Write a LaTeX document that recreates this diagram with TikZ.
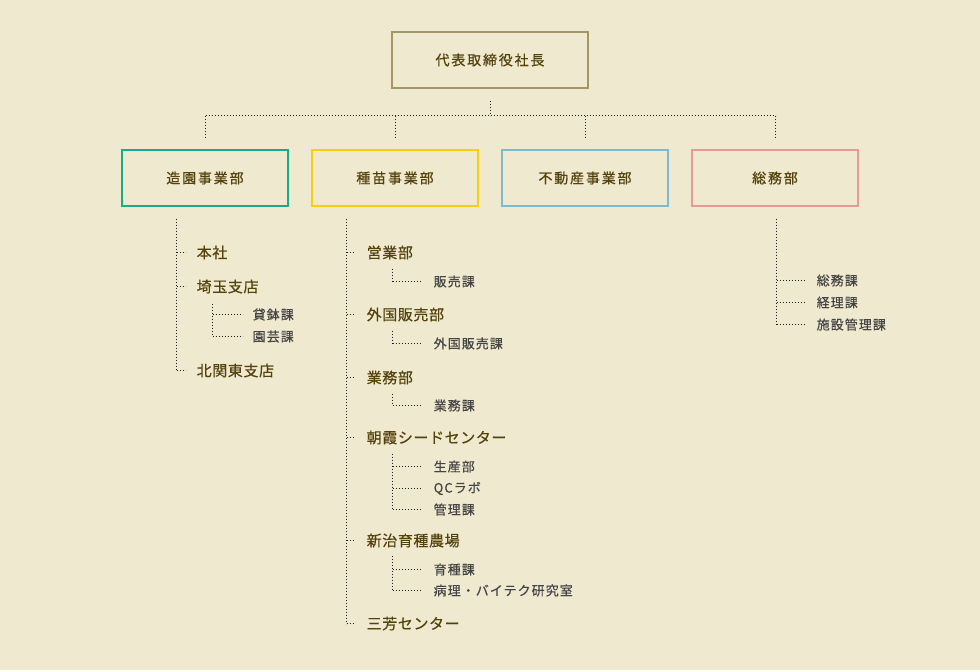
\documentclass[tikz,border=0pt]{standalone}
\usepackage{fontspec}
\setmainfont{Noto Sans CJK JP}
\newfontfamily\boxfont[LetterSpace=13,FakeBold=0.8]{Noto Sans CJK JP}
\newfontfamily\lonefont[LetterSpace=4,FakeBold=0.45]{Noto Sans CJK JP}
\newfontfamily\ltwofont[LetterSpace=8,FakeBold=0.3]{Noto Sans CJK JP}
\definecolor{bg}{HTML}{EFE9CF}
\definecolor{titlec}{HTML}{54420C}
\definecolor{subc}{HTML}{444444}
\definecolor{dotc}{HTML}{222222}
\definecolor{topc}{HTML}{A39763}
\definecolor{greenc}{HTML}{1BAA88}
\definecolor{yellowc}{HTML}{F6D10A}
\definecolor{bluec}{HTML}{80B8CC}
\definecolor{pinkc}{HTML}{E29A9A}
\begin{document}
\begin{tikzpicture}[x=1pt,y=-1pt,
  orgbox/.style={draw, line width=2pt, minimum width=166pt, minimum height=56pt, inner sep=0pt, text=titlec, font=\boxfont\fontsize{14}{14}\selectfont},
  lone/.style={anchor=west, inner sep=0pt, text=titlec, font=\lonefont\fontsize{15}{15}\selectfont},
  ltwo/.style={anchor=west, inner sep=0pt, text=subc, font=\ltwofont\fontsize{13}{13}\selectfont},
  dotline/.style={draw=dotc, line width=1pt, dash pattern=on 1pt off 2pt}]
\fill[bg] (0,0) rectangle (980,670);
\useasboundingbox (0,0) rectangle (980,670);

% boxes
\node[orgbox, draw=topc, minimum width=196pt] (ceo) at (490,60) {代表取締役社長};
\node[orgbox, draw=greenc] (zoen) at (205,178) {造園事業部};
\node[orgbox, draw=yellowc] (shubyo) at (395,178) {種苗事業部};
\node[orgbox, draw=bluec] (fudosan) at (585,178) {不動産事業部};
\node[orgbox, draw=pinkc] (somu) at (775,178) {総務部};

\begin{scope}[shift={(0.5,0.5)}]
% top connectors
\coordinate (c0) at (490,100);
\coordinate (c1) at (490,115);
\coordinate (h1) at (205,115);
\coordinate (h4) at (775,115);
\draw[dotline] (c0) -- (c1);
\draw[dotline] (h1) -- (h4);
\foreach \x/\n in {205/a,395/b,585/c,775/d}{
  \coordinate (t\n) at (\x,115);
  \coordinate (b\n) at (\x,137);
  \draw[dotline] (t\n) -- (b\n);
}

% green column
\coordinate (gtop) at (176,218);
\coordinate (gbot) at (176,370);
\draw[dotline] (gtop) -- (gbot);
\node[lone] (g1) at (196,252) {本社};
\node[lone] (g2) at (196,286) {埼玉支店};
\node[ltwo] (g21) at (252,314) {貸鉢課};
\node[ltwo] (g22) at (252,336) {園芸課};
\node[lone] (g3) at (196,370) {北関東支店};
\foreach \n in {g1,g2,g3}{ \draw[dotline] (176,0 |- \n.west) -- ++(9,0); }
\coordinate (gs0) at (212,303);
\coordinate (gs1) at (212,336);
\draw[dotline] (gs0) -- (gs1);
\foreach \n in {g21,g22}{ \draw[dotline] (212,0 |- \n.west) -- (242,0 |- \n.west); }

% yellow column
\coordinate (ytop) at (346,218);
\coordinate (ybot) at (346,623);
\draw[dotline] (ytop) -- (ybot);
\node[lone] (y1) at (366,252) {営業部};
\node[ltwo] (y11) at (433,281) {販売課};
\node[lone] (y2) at (366,314) {外国販売部};
\node[ltwo] (y21) at (433,343) {外国販売課};
\node[lone] (y3) at (366,377) {業務部};
\node[ltwo] (y31) at (433,405) {業務課};
\node[lone] (y4) at (366,437) {朝霞シードセンター};
\node[ltwo] (y41) at (433,466) {生産部};
\node[ltwo] (y42) at (433,488) {QCラボ};
\node[ltwo] (y43) at (433,509) {管理課};
\node[lone] (y5) at (366,540) {新治育種農場};
\node[ltwo] (y51) at (433,569) {育種課};
\node[ltwo] (y52) at (433,590) {病理・バイテク研究室};
\node[lone] (y6) at (366,623) {三芳センター};
\foreach \n in {y1,y2,y3,y4,y5,y6}{ \draw[dotline] (346,0 |- \n.west) -- ++(9,0); }
\foreach \a/\b in {268/281,330/343,393/405,453/509,555/590}{ \draw[dotline] (392,\a) -- (392,\b); }
\foreach \n in {y11,y21,y31,y41,y42,y43,y51,y52}{ \draw[dotline] (392,0 |- \n.west) -- (422,0 |- \n.west); }

% pink column
\coordinate (ptop) at (776,218);
\coordinate (pbot) at (776,324);
\draw[dotline] (ptop) -- (pbot);
\node[ltwo] (p1) at (816,280) {総務課};
\node[ltwo] (p2) at (816,302) {経理課};
\node[ltwo] (p3) at (816,324) {施設管理課};
\foreach \n in {p1,p2,p3}{ \draw[dotline] (776,0 |- \n.west) -- (806,0 |- \n.west); }
\end{scope}
\end{tikzpicture}
\end{document}
